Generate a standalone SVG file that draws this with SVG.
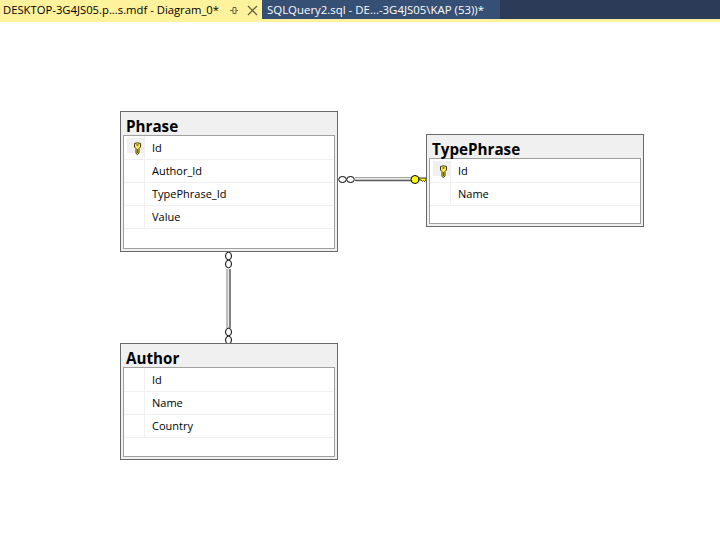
<svg xmlns="http://www.w3.org/2000/svg" width="720" height="538" viewBox="0 0 720 538">
<style>
.outer{fill:#f0f0f0;stroke:#696969;stroke-width:1}
.inner{fill:#fff;stroke:#a0a0a0;stroke-width:1}
.row{stroke:#f0f0f0;stroke-width:1;fill:none}
.title{font:700 15.2px "Open Sans","Noto Sans","Liberation Sans",sans-serif;fill:#000}
.col{font:11px "Open Sans","Noto Sans","Liberation Sans",sans-serif;fill:#000}
.tab{font:11.300px "Open Sans","Noto Sans","Liberation Sans",sans-serif}
.ring{fill:#fff;stroke:#000;stroke-width:1}
.keyb{fill:#ffff00;stroke:#000;stroke-width:1}
</style>
<defs>
<g id="key">
<path d="M-3 -3.500Q0 -5 3 -3.500V0L1.500 1.500V6L0 7.500L-1.500 6.500V1.500L-3 0Z" fill="#ffe94d" stroke="#3c3c10" stroke-width="1"/>
<path d="M-1 -2H1" stroke="#3c3c10" stroke-width="1.200"/>
<path d="M0 2V6" stroke="#3c3c10" stroke-width="0.800"/>
</g>
</defs>
<rect width="720" height="538" fill="#fff"/>
<g id="tabs">
<rect x="0" y="0" width="720" height="20" fill="#2c3b58"/>
<rect x="0" y="0" width="262" height="22" fill="#fff29d"/>
<rect x="262" y="0" width="238" height="19" fill="#364f75"/>
<rect x="0" y="19" width="720" height="3" fill="#fff29d"/>
<text class="tab" x="3" y="14" fill="#000" textLength="216" lengthAdjust="spacingAndGlyphs">DESKTOP-3G4JS05.p...s.mdf - Diagram_0*</text>
<path d="M230 10.500H233M233 7.500H236V13.500H233ZM236 10.500H238" fill="none" stroke="#6b6440" stroke-width="1"/>
<path d="M248 6L257 15M257 6L248 15" fill="none" stroke="#6b6440" stroke-width="1.300"/>
<text class="tab" x="267" y="14" fill="#fff" textLength="217" lengthAdjust="spacingAndGlyphs">SQLQuery2.sql - DE...-3G4JS05\KAP (53))*</text>
</g>
<g id="connectors">
<path d="M355 177.500H412" stroke="#a8a8a8" stroke-width="1" fill="none"/>
<path d="M355 179H412" stroke="#e8e8e8" stroke-width="2" fill="none"/>
<path d="M355 180.500H412" stroke="#5a5a5a" stroke-width="1.500" fill="none"/>
<ellipse class="ring" cx="342.500" cy="179.500" rx="3.800" ry="3"/>
<ellipse class="ring" cx="350.500" cy="179.500" rx="3.800" ry="3"/>
<circle class="keyb" cx="415" cy="179.500" r="4"/>
<path d="M419 178H426V180L424.500 181.500L423.500 180.500L422.500 181.500L421 180H419Z" fill="#ffff00" stroke="#000" stroke-width="0.800"/>
<path d="M227 269V328" stroke="#a8a8a8" stroke-width="1.500" fill="none"/>
<path d="M228.500 269V328" stroke="#e8e8e8" stroke-width="1" fill="none"/>
<path d="M230 269V328" stroke="#5a5a5a" stroke-width="1.500" fill="none"/>
<ellipse class="ring" cx="228.500" cy="256" rx="3" ry="3.800"/>
<ellipse class="ring" cx="228.500" cy="264" rx="3" ry="3.800"/>
<ellipse class="ring" cx="228.500" cy="332" rx="3" ry="3.800"/>
<ellipse class="ring" cx="228.500" cy="340" rx="3" ry="3.800"/>
</g>
<g id="Phrase">
<rect class="outer" x="120.500" y="111.500" width="217" height="140"/>
<rect class="inner" x="123.500" y="135.500" width="211" height="113"/>
<rect x="127" y="138" width="17" height="15" fill="#f0f0f0"/>
<path class="row" d="M124 159.500H334M124 182.500H334M124 205.500H334M124 228.500H334M144.500 136V228"/>
<use href="#key" x="137.500" y="147"/>
<text class="title" x="126" y="132">Phrase</text>
<text class="col" x="152" y="152">Id</text>
<text class="col" x="152" y="175">Author_Id</text>
<text class="col" x="152" y="198">TypePhrase_Id</text>
<text class="col" x="152" y="221">Value</text>
</g>
<g id="TypePhrase">
<rect class="outer" x="426.500" y="134.500" width="217" height="92"/>
<rect class="inner" x="429.500" y="158.500" width="211" height="65"/>
<rect x="433" y="161" width="17" height="15" fill="#f0f0f0"/>
<path class="row" d="M430 182.500H640M430 205.500H640M450.500 159V205"/>
<use href="#key" x="443.500" y="170"/>
<text class="title" x="432" y="155">TypePhrase</text>
<text class="col" x="458" y="175">Id</text>
<text class="col" x="458" y="198">Name</text>
</g>
<g id="Author">
<rect class="outer" x="120.500" y="343.500" width="217" height="116"/>
<rect class="inner" x="123.500" y="367.500" width="211" height="89"/>
<path class="row" d="M124 391.500H334M124 414.500H334M124 437.500H334M144.500 368V437"/>
<text class="title" x="126" y="364">Author</text>
<text class="col" x="152" y="384">Id</text>
<text class="col" x="152" y="407">Name</text>
<text class="col" x="152" y="430">Country</text>
</g>
</svg>
